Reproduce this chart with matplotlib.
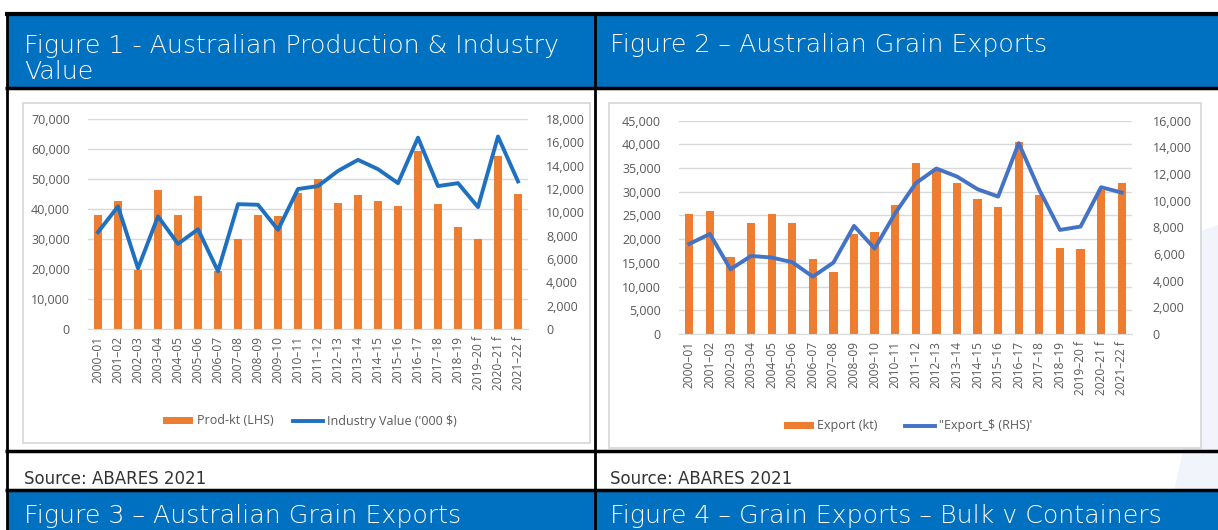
import matplotlib
matplotlib.use("Agg")
import matplotlib.pyplot as plt
from matplotlib.patches import Rectangle, Patch, Polygon
from matplotlib.lines import Line2D
from matplotlib.ticker import FuncFormatter, MultipleLocator

W, H = 1218, 530

categories = ["2000–01", "2001–02", "2002–03", "2003–04", "2004–05", "2005–06",
              "2006–07", "2007–08", "2008–09", "2009–10", "2010–11", "2011–12",
              "2012–13", "2013–14", "2014–15", "2015–16", "2016–17", "2017–18",
              "2018–19", "2019–20 f", "2020–21 f", "2021–22 f"]

prod_kt = [38100, 42800, 19800, 46400, 38100, 44200, 19200, 30000, 38100, 37800,
           45300, 50000, 42000, 44800, 42600, 40900, 59400, 41700, 34000, 30000,
           57800, 45000]
industry_value = [8300, 10500, 5200, 9650, 7300, 8550, 4950, 10700, 10650, 8500,
                  12000, 12250, 13550, 14500, 13700, 12500, 16400, 12250, 12500, 10450,
                  16500, 12650]

export_kt = [25200, 25900, 16200, 23500, 25200, 23300, 15800, 13000, 21100, 21400,
             27100, 36000, 34800, 31900, 28400, 26700, 40400, 29400, 18100, 17900,
             30400, 31800]
export_value = [6750, 7500, 4850, 5850, 5730, 5380, 4300, 5350, 8100, 6400,
                9050, 11300, 12400, 11800, 10850, 10300, 14300, 10800, 7800, 8050,
                11000, 10600]

fig_titles = ["Figure 1 - Australian Production & Industry\nValue",
              "Figure 2 – Australian Grain Exports",
              "Figure 3 – Australian Grain Exports",
              "Figure 4 – Grain Exports – Bulk v Containers"]
source_text = "Source: ABARES 2021"

BLUE = "#0070C0"
ORANGE = "#ED7D31"
GRID = "#D9D9D9"
TICK = "#595959"
CHART_FONT = ["Open Sans", "DejaVu Sans"]

fig = plt.figure(figsize=(W / 100, H / 100), dpi=100)


def fx(x):
    return x / W


def fy(y):
    return 1 - y / H


def rect(x0, y0, x1, y1, z=-1, **kw):
    fig.add_artist(Rectangle((fx(x0), fy(y1)), fx(x1) - fx(x0), fy(y0) - fy(y1),
                             transform=fig.transFigure, zorder=z, **kw))


def hline(x0, x1, y, lw=2.5):
    fig.add_artist(Line2D([fx(x0), fx(x1)], [fy(y), fy(y)], transform=fig.transFigure,
                          color="black", lw=lw, solid_capstyle="butt", zorder=5))


def vline(x, y0, y1, lw=2.0):
    fig.add_artist(Line2D([fx(x), fx(x)], [fy(y0), fy(y1)], transform=fig.transFigure,
                          color="black", lw=lw, solid_capstyle="butt", zorder=5))


# faint watermark shape on right
fig.add_artist(Polygon([(fx(1190), fy(235)), (fx(1218), fy(225)), (fx(1218), fy(530)),
                        (fx(1165), fy(530)), (fx(1190), fy(420))],
                       closed=True, transform=fig.transFigure, facecolor="#F1F5FB",
                       edgecolor="none", zorder=-3))

# blue header rows
rect(7, 14, W, 88, facecolor=BLUE, edgecolor="none")
rect(7, 490, W, H, facecolor=BLUE, edgecolor="none")

# chart boxes
rect(23, 103, 590, 443, facecolor="white", edgecolor="#D6D6D6", lw=1.2, z=-2)
rect(609, 103, 1201, 448, facecolor="white", edgecolor="#D6D6D6", lw=1.2, z=-2)

# grid lines of the table
hline(5, W, 14, lw=3)
hline(5, W, 88)
hline(5, W, 451)
hline(5, W, 490)
vline(7, 13, H)
vline(595, 13, H)

# header texts
title_kw = dict(color="white", fontsize=18.2, fontweight="light",
                family=["DejaVu Sans"], ha="left", zorder=6)
fig.text(fx(24), fy(59), fig_titles[0], linespacing=1.08, va="center", **title_kw)
fig.text(fx(610), fy(45), fig_titles[1], va="center", **title_kw)
fig.text(fx(24), fy(523), fig_titles[2], va="baseline", **title_kw)
fig.text(fx(610), fy(523), fig_titles[3], va="baseline", **title_kw)

src_kw = dict(color="#333333", fontsize=12, family=["DejaVu Sans"],
              va="center", ha="left")
fig.text(fx(24), fy(479), source_text, **src_kw)
fig.text(fx(610), fy(479), source_text, **src_kw)

fmt = FuncFormatter(lambda v, p: f"{int(v):,}")


def make_chart(x0, x1, ytop, ybot, bars, line, lmax, lstep, rmax, rstep,
               line_color, labels, leg_center, lpad, rpad, colsp):
    ax = fig.add_axes([fx(x0), fy(ybot), fx(x1) - fx(x0), fy(ytop) - fy(ybot)])
    ax.set_facecolor("none")
    xs = list(range(len(categories)))
    ax.bar(xs, bars, width=0.4, color=ORANGE, zorder=2)
    ax.set_xlim(-0.5, len(categories) - 0.5)
    ax.set_ylim(0, lmax)
    ax.yaxis.set_major_locator(MultipleLocator(lstep))
    ax.yaxis.set_major_formatter(fmt)
    ax.grid(axis="y", color=GRID, lw=1.0, zorder=0)
    ax.set_axisbelow(True)
    for s in ["top", "right", "left"]:
        ax.spines[s].set_visible(False)
    ax.spines["bottom"].set_color(GRID)
    ax.set_xticks(xs)
    ax.set_xticklabels(categories, rotation=90, fontsize=8.6, color=TICK,
                       family=CHART_FONT)
    ax.tick_params(axis="x", length=0, pad=5)
    ax.tick_params(axis="y", length=0, pad=lpad, labelsize=9, labelcolor=TICK)
    for t in ax.get_yticklabels():
        t.set_family(CHART_FONT)

    ax2 = ax.twinx()
    ax2.plot(xs, line, color=line_color, lw=2.8, zorder=3, solid_joinstyle="round")
    ax2.set_ylim(0, rmax)
    ax2.yaxis.set_major_locator(MultipleLocator(rstep))
    ax2.yaxis.set_major_formatter(fmt)
    for s in ["top", "right", "left", "bottom"]:
        ax2.spines[s].set_visible(False)
    ax2.tick_params(axis="y", length=0, pad=rpad, labelsize=9, labelcolor=TICK)
    for t in ax2.get_yticklabels():
        t.set_family(CHART_FONT)

    handles = [Patch(facecolor=ORANGE, edgecolor="none"),
               Line2D([0], [0], color=line_color, lw=2.8)]
    fig.legend(handles, labels, loc="center",
               bbox_to_anchor=(fx(leg_center[0]), fy(leg_center[1])),
               bbox_transform=fig.transFigure, ncol=2, frameon=False,
               prop={"family": CHART_FONT, "size": 9}, labelcolor=TICK,
               handlelength=2.4, handleheight=0.5, columnspacing=colsp,
               handletextpad=0.3)
    return ax, ax2


make_chart(88, 528, 119, 329, prod_kt, industry_value, 70000, 10000, 18000, 2000,
           "#1F70C1", ["Prod-kt (LHS)", "Industry Value ('000 $)"], (310, 421), 13, 13,
           1.6)
make_chart(679, 1132, 120.5, 334, export_kt, export_value, 45000, 5000, 16000, 2000,
           "#4472C4", ["Export (kt)", "\"Export_$ (RHS)'"], (908, 426), 13, 15, 2.2)

fig.savefig("out.png", dpi=100)
